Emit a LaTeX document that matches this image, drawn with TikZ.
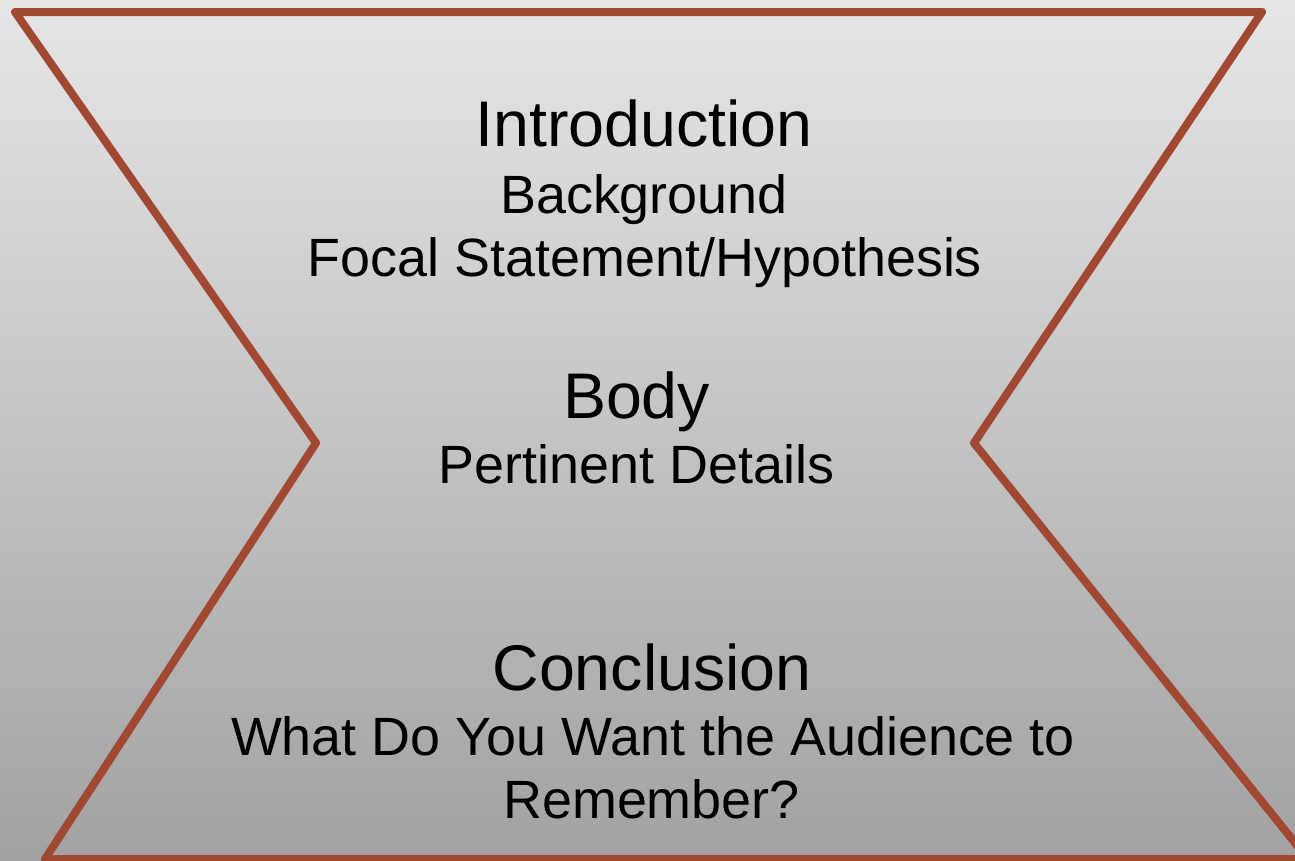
\documentclass[tikz,border=0pt]{standalone}
\usepackage{fontspec}
\setmainfont{Liberation Sans}
\definecolor{bgtop}{RGB}{230,230,230}
\definecolor{bgbot}{RGB}{162,162,162}
\definecolor{rust}{RGB}{160,72,50}
\tikzset{
  big/.style={anchor=base, inner sep=0pt, font=\fontsize{64.5}{76}\selectfont},
  small/.style={anchor=base, inner sep=0pt, font=\fontsize{53.9}{64}\selectfont},
  frame/.style={draw=rust, line width=8pt, line join=round}
}
\begin{document}
\begin{tikzpicture}[x=1pt, y=-1pt]
\useasboundingbox (0,0) rectangle (1295,860);
\shade[top color=bgtop, bottom color=bgbot] (0,0) rectangle (1295,860);
\begin{scope}
\clip (0,0) rectangle (1295,860);
\draw[frame] (15,12) -- (1262,12) -- (974,443) -- (1308,859) -- (45,859) -- (316,443) -- cycle;
\end{scope}
\node[big]   (intro) at (644,146) {Introduction};
\node[small] (bg)    at (644,213) {Background};
\node[small] (focal) at (645,276) {Focal Statement/Hypothesis};
\node[big]   (body)  at (636.5,418) {Body};
\node[small] (pert)  at (636.5,483) {Pertinent Details};
\node[big]   (concl) at (652,690) {Conclusion};
\node[small] (what)  at (653,755) {What Do You Want the Audience to};
\node[small] (rem)   at (651.5,818) {Remember?};
\end{tikzpicture}
\end{document}
